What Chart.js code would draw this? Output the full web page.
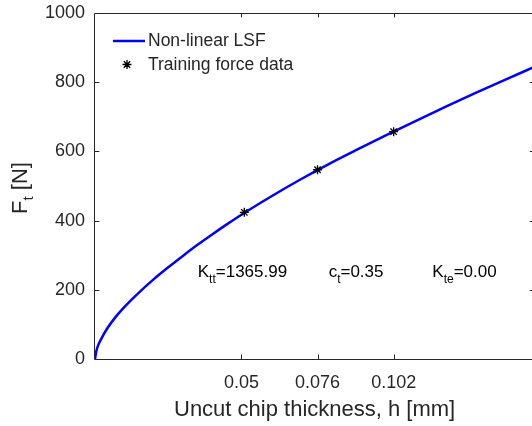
<!DOCTYPE html>
<html>
<head>
<meta charset="utf-8">
<script src="https://cdn.jsdelivr.net/npm/chart.js@4.4.1/dist/chart.umd.min.js"></script>
<style>
  html, body { margin: 0; padding: 0; background: #fff; overflow: hidden; }
  #wrap { width: 540px; height: 426px; }
</style>
</head>
<body>
<div id="wrap"><canvas id="c" width="540" height="426"></canvas></div>
<script>
// ---- data ----
const hFit = [0, 0.0005, 0.001, 0.002, 0.004, 0.007, 0.01, 0.015, 0.02, 0.025, 0.03, 0.035, 0.04, 0.045, 0.05, 0.06, 0.07, 0.08, 0.09, 0.10, 0.11, 0.12, 0.13, 0.14, 0.15];
const fFit = [0, 24, 38, 56, 86, 121, 150, 192, 230, 265, 298, 330, 360, 389, 417, 469, 518, 564, 607, 649, 690, 730, 769, 807, 844];
const trainH = [0.051, 0.076, 0.102];
const trainF = [424, 547, 657];
const xTicks = [0.05, 0.076, 0.102];
const yTicks = [0, 200, 400, 600, 800, 1000];
const seriesLabels = ['Non-linear LSF', 'Training force data'];
const annoMain = ['K', 'c', 'K'];
const annoSub = ['tt', 't', 'te'];
const annoValue = ['=1365.99', '=0.35', '=0.00'];
const annoH = [0.0351, 0.0798, 0.1152];
const annoF = [237, 237, 237];

const FONT = "'Liberation Sans', Arial, Helvetica, sans-serif";
const AX = '#262626';

function drawStar(ctx, x, y, r) {
  ctx.beginPath();
  ctx.moveTo(x - r, y); ctx.lineTo(x + r, y);
  ctx.moveTo(x, y - r); ctx.lineTo(x, y + r);
  const d = r * Math.SQRT1_2;
  ctx.moveTo(x - d, y - d); ctx.lineTo(x + d, y + d);
  ctx.moveTo(x - d, y + d); ctx.lineTo(x + d, y - d);
  ctx.stroke();
}

function noPad(s) { s.paddingTop = 0; s.paddingBottom = 0; s.paddingLeft = 0; s.paddingRight = 0; }

const framePlugin = {
  id: 'frame',
  afterDraw(chart) {
    const { ctx, chartArea: a, scales: { x, y } } = chart;
    ctx.save();
    // box
    ctx.strokeStyle = AX; ctx.lineWidth = 1;
    ctx.beginPath();
    ctx.moveTo(a.left - 0.5, a.top + 0.5);
    ctx.lineTo(a.right + 0.5, a.top + 0.5);
    ctx.lineTo(a.right + 0.5, a.bottom + 0.5);
    ctx.lineTo(a.left - 0.5, a.bottom + 0.5);
    ctx.closePath();
    ctx.stroke();
    // inward ticks
    const tl = 4.4;
    ctx.beginPath();
    x.ticks.forEach(t => {
      const px = Math.round(x.getPixelForValue(t.value)) + 0.5;
      ctx.moveTo(px, a.bottom); ctx.lineTo(px, a.bottom - tl);
      ctx.moveTo(px, a.top); ctx.lineTo(px, a.top + tl);
    });
    y.ticks.forEach(t => {
      const py = Math.round(y.getPixelForValue(t.value)) + 0.5;
      ctx.moveTo(a.left, py); ctx.lineTo(a.left + tl, py);
      ctx.moveTo(a.right, py); ctx.lineTo(a.right - tl, py);
    });
    ctx.stroke();

    // y-axis title  F_t [N]
    ctx.fillStyle = AX;
    ctx.save();
    ctx.translate(27, 188);
    ctx.rotate(-Math.PI / 2);
    ctx.textBaseline = 'alphabetic';
    ctx.textAlign = 'left';
    const big = '22px ' + FONT, small = '15px ' + FONT;
    ctx.font = big; const w1 = ctx.measureText('F').width;
    ctx.font = small; const w2 = ctx.measureText('t').width;
    ctx.font = big; const w3 = ctx.measureText(' [N]').width;
    let sx = -(w1 + w2 + w3) / 2;
    ctx.font = big; ctx.fillText('F', sx, 0); sx += w1;
    ctx.font = small; ctx.fillText('t', sx, 6); sx += w2;
    ctx.font = big; ctx.fillText(' [N]', sx, 0);
    ctx.restore();

    // legend
    const ds0 = chart.data.datasets[0], ds1 = chart.data.datasets[1];
    ctx.strokeStyle = ds0.borderColor; ctx.lineWidth = 2.5;
    ctx.beginPath(); ctx.moveTo(113, 41); ctx.lineTo(145, 41); ctx.stroke();
    ctx.strokeStyle = ds1.borderColor; ctx.lineWidth = 1.3;
    drawStar(ctx, 127, 64.5, 4.5);
    ctx.fillStyle = AX;
    ctx.font = '17.5px ' + FONT;
    ctx.textBaseline = 'middle';
    ctx.textAlign = 'left';
    ctx.fillText(ds0.label, 148, 41.5);
    ctx.fillText(ds1.label, 148, 65);

    // annotations
    ctx.fillStyle = '#000';
    ctx.textBaseline = 'alphabetic';
    annoMain.forEach((m, i) => {
      let px = x.getPixelForValue(annoH[i]);
      const py = y.getPixelForValue(annoF[i]);
      ctx.font = '17px ' + FONT; ctx.fillText(m, px, py); px += ctx.measureText(m).width;
      ctx.font = '12px ' + FONT; ctx.fillText(annoSub[i], px, py + 6); px += ctx.measureText(annoSub[i]).width;
      ctx.font = '17px ' + FONT; ctx.fillText(annoValue[i], px, py);
    });
    ctx.restore();
  }
};

new Chart(document.getElementById('c'), {
  type: 'line',
  data: {
    datasets: [
      {
        label: seriesLabels[0],
        data: hFit.map((h, i) => ({ x: h, y: fFit[i] })),
        borderColor: '#0000ff',
        borderWidth: 2.5,
        pointRadius: 0,
        cubicInterpolationMode: 'monotone',
        fill: false,
        order: 2
      },
      {
        label: seriesLabels[1],
        type: 'scatter',
        data: trainH.map((h, i) => ({ x: h, y: trainF[i] })),
        showLine: false,
        pointStyle: 'star',
        pointRadius: 4.5,
        borderColor: '#000000',
        backgroundColor: '#000000',
        borderWidth: 1.3,
        order: 1
      }
    ]
  },
  options: {
    responsive: false,
    animation: false,
    devicePixelRatio: 1,
    layout: { padding: { top: 13, right: 4, left: 0, bottom: 0 } },
    plugins: { legend: { display: false }, tooltip: { enabled: false } },
    scales: {
      x: {
        type: 'linear', min: 0, max: 0.15,
        afterBuildTicks: s => { s.ticks = xTicks.map(v => ({ value: v })); },
        afterFit: s => { s.height = 67; noPad(s); },
        grid: { display: false, drawTicks: false },
        border: { display: false },
        ticks: {
          font: { family: FONT, size: 18 }, color: AX, padding: 13,
          maxRotation: 0, autoSkip: false,
          callback: v => String(v)
        },
        title: {
          display: true, text: 'Uncut chip thickness, h [mm]',
          font: { family: FONT, size: 22 }, color: AX,
          padding: { top: 0, bottom: 3 }
        }
      },
      y: {
        type: 'linear', min: 0, max: 1000,
        afterBuildTicks: s => { s.ticks = yTicks.map(v => ({ value: v })); },
        afterFit: s => { s.width = 95; noPad(s); },
        grid: { display: false, drawTicks: false },
        border: { display: false },
        ticks: {
          font: { family: FONT, size: 18 }, color: AX, padding: 10,
          callback: v => String(v)
        }
      }
    }
  },
  plugins: [framePlugin]
});
</script>
</body>
</html>
